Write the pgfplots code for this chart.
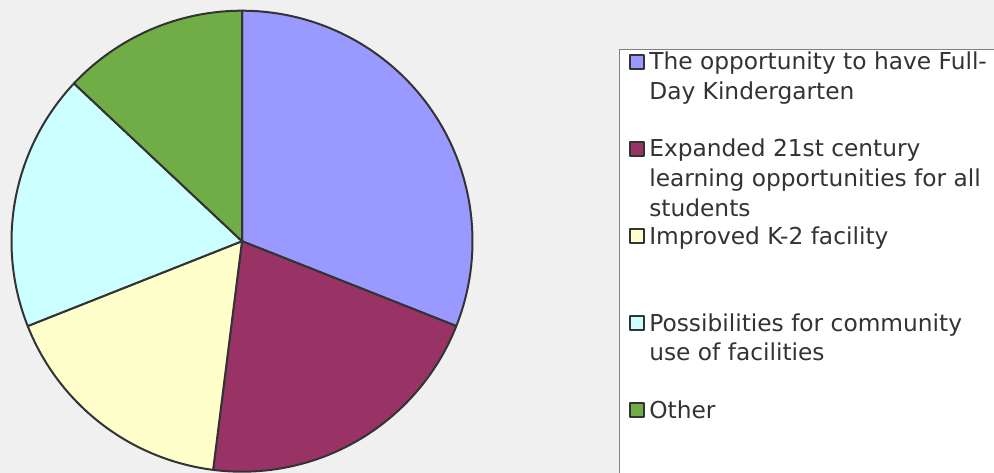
\documentclass[border=0pt]{standalone}
\usepackage{pgfplots}
\pgfplotsset{compat=1.18}
\usepackage{fontspec}
\setmainfont{DejaVu Sans}
\definecolor{bg}{HTML}{F0F0F0}
\definecolor{c1}{HTML}{9999FF}
\definecolor{c2}{HTML}{993366}
\definecolor{c3}{HTML}{FFFFCC}
\definecolor{c4}{HTML}{CCFFFF}
\definecolor{c5}{HTML}{70AD47}
\definecolor{edge}{HTML}{333333}
\definecolor{txt}{HTML}{333333}
\definecolor{lborder}{HTML}{808080}
% percentages of the five answers
\def\vA{31}\def\vB{21}\def\vC{17}\def\vD{18}\def\vE{13}
\pgfmathsetmacro\tot{\vA+\vB+\vC+\vD+\vE}
\pgfmathsetmacro\aA{90}
\pgfmathsetmacro\aB{\aA-360*\vA/\tot}
\pgfmathsetmacro\aC{\aB-360*\vB/\tot}
\pgfmathsetmacro\aD{\aC-360*\vC/\tot}
\pgfmathsetmacro\aE{\aD-360*\vD/\tot}
\pgfmathsetmacro\aF{\aE-360*\vE/\tot}
\newcommand{\entry}[1]{\parbox[t]{400bp}{\raggedright #1}}
\pgfplotsset{
  slotimage/.style={legend image code/.code={\path[draw=none,fill=none] (0bp,-66.8bp) rectangle (1bp,20.3bp);
    \draw[##1, line width=2bp, draw=edge] (0bp,1bp) rectangle (14bp,15bp);}},
  tallimage/.style={legend image code/.code={\path[draw=none,fill=none] (0bp,-140bp) rectangle (1bp,20.3bp);
    \draw[##1, line width=2bp, draw=edge] (0bp,1bp) rectangle (14bp,15bp);}},
}
\begin{document}
\begin{tikzpicture}
\path[use as bounding box, fill=bg] (0,0) rectangle (994bp,473bp);
\begin{axis}[
  at={(242bp,231.8bp)}, anchor=center,
  width=461bp, height=461bp, scale only axis,
  xmin=-1, xmax=1, ymin=-1, ymax=1,
  hide axis, clip=false,
  legend style={at={(1.3185,0.9169)}, anchor=north west,
    fill=white, draw=lborder, line width=1bp,
    inner xsep=9bp, inner ysep=0pt, column sep=2.5bp, row sep=0pt,
    font=\fontsize{23.3bp}{29.8bp}\selectfont, text=txt,
    cells={anchor=base west, inner sep=0pt}},
  slotimage,
]
\addplot[fill=c1, draw=edge, line width=2bp, line join=round, domain=\aB:\aA, samples=90, data cs=polar] ({x},{1}) -- (axis cs:0,0) -- cycle;
\addlegendentry{\entry{The opportunity to have Full-\\Day Kindergarten}}
\addplot[fill=c2, draw=edge, line width=2bp, line join=round, domain=\aC:\aB, samples=70, data cs=polar] ({x},{1}) -- (axis cs:0,0) -- cycle;
\addlegendentry{\entry{Expanded 21st century\\learning opportunities for all\\students}}
\addplot[fill=c3, draw=edge, line width=2bp, line join=round, domain=\aD:\aC, samples=60, data cs=polar] ({x},{1}) -- (axis cs:0,0) -- cycle;
\addlegendentry{\entry{Improved K-2 facility}}
\addplot[fill=c4, draw=edge, line width=2bp, line join=round, domain=\aE:\aD, samples=60, data cs=polar] ({x},{1}) -- (axis cs:0,0) -- cycle;
\addlegendentry{\entry{Possibilities for community\\use of facilities}}
\addplot[fill=c5, draw=edge, line width=2bp, line join=round, domain=\aF:\aE, samples=50, data cs=polar, tallimage] ({x},{1}) -- (axis cs:0,0) -- cycle;
\addlegendentry{\entry{Other}}
\end{axis}
\end{tikzpicture}
\end{document}
